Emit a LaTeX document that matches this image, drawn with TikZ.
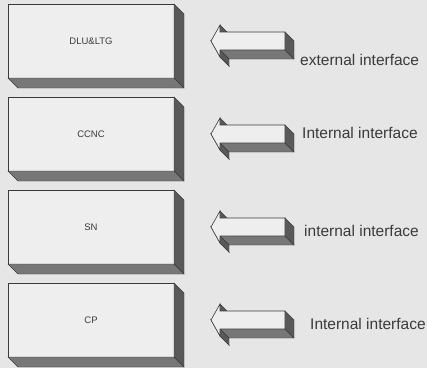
\documentclass[tikz,border=0pt]{standalone}
\usepackage{fontspec}
\setmainfont{Liberation Sans}
\usepackage{xcolor}
\usepackage{tikz}
\usetikzlibrary{positioning}

\definecolor{paper}{HTML}{E6E6E6}
\definecolor{face}{HTML}{EEEEEE}
\definecolor{shade}{HTML}{595959}
\definecolor{shadelight}{HTML}{777777}
\definecolor{ink}{HTML}{3A3A3A}

\begin{document}
\begin{tikzpicture}[x=1pt, y=-1pt,
    unitbox/.style={draw=ink, fill=face, line width=0.7pt, minimum width=166pt, minimum height=74pt,
        inner sep=0pt, outer sep=0pt, text=ink, font=\fontsize{9.5}{11}\selectfont},
    iflabel/.style={inner sep=0pt, text=ink, font=\fontsize{15.5}{18}\selectfont},
    depth/.style={fill=shade, draw=ink, line width=0.4pt},
    depthlight/.style={fill=shadelight, draw=ink, line width=0.4pt},
    iface/.pic={
        \path[depth] (9,-16) -- (9,-9) -- (18,0) -- (18,-7) -- cycle;
        \path[depthlight] (9,9) -- (74,9) -- (83,18) -- (18,18) -- cycle;
        \path[depth] (74,-9) -- (83,0) -- (83,18) -- (74,9) -- cycle;
        \path[depth] (0,0) -- (9,16) -- (18,25) -- (9,9) -- cycle;
        \path[depth] (9,9) -- (9,16) -- (18,25) -- (18,18) -- cycle;
        \path[fill=face, draw=ink, line width=0.6pt] (0,0) -- (9,-16) -- (9,-9) -- (74,-9) -- (74,9) -- (9,9) -- (9,16) -- cycle;
    }]
    \useasboundingbox (0,0) rectangle (427,368);
    \fill[paper] (0,0) rectangle (427,368);

    % Units
    \node[unitbox] (dlu) at (91,41) {DLU\&LTG};
    \node[unitbox, below=19pt of dlu] (ccnc) {CCNC};
    \node[unitbox, below=19pt of ccnc] (sn) {SN};
    \node[unitbox, below=19pt of sn] (cp) {CP};

    % Depth of the units
    \path[depth] (dlu.north east) -- ++(10,10) -- ++(0,74) -- (dlu.south east) -- cycle;
    \path[depthlight] (dlu.south west) -- (dlu.south east) -- ++(10,10) -- ++(-166,0) -- cycle;
    \path[depth] (ccnc.north east) -- ++(10,10) -- ++(0,74) -- (ccnc.south east) -- cycle;
    \path[depthlight] (ccnc.south west) -- (ccnc.south east) -- ++(10,10) -- ++(-166,0) -- cycle;
    \path[depth] (sn.north east) -- ++(10,10) -- ++(0,74) -- (sn.south east) -- cycle;
    \path[depthlight] (sn.south west) -- (sn.south east) -- ++(10,10) -- ++(-166,0) -- cycle;
    \path[depth] (cp.north east) -- ++(10,10) -- ++(0,74) -- (cp.south east) -- cycle;
    \path[depthlight] (cp.south west) -- (cp.south east) -- ++(10,10) -- ++(-166,0) -- cycle;

    % Interface arrows
    \coordinate[right=37pt of dlu] (tip1);
    \coordinate[right=37pt of ccnc] (tip2);
    \coordinate[right=37pt of sn] (tip3);
    \coordinate[right=37pt of cp] (tip4);
    \pic at (tip1) {iface};
    \pic at (tip2) {iface};
    \pic at (tip3) {iface};
    \pic at (tip4) {iface};

    % Labels
    \node[iflabel, right=89pt of tip1, yshift=-19pt] (ext) {external interface};
    \node[iflabel, right=91pt of tip2, yshift=1pt] (int1) {Internal interface};
    \node[iflabel, right=93pt of tip3, yshift=-4pt] (int2) {internal interface};
    \node[iflabel, right=99pt of tip4, yshift=-4pt] (int3) {Internal interface};
\end{tikzpicture}
\end{document}
